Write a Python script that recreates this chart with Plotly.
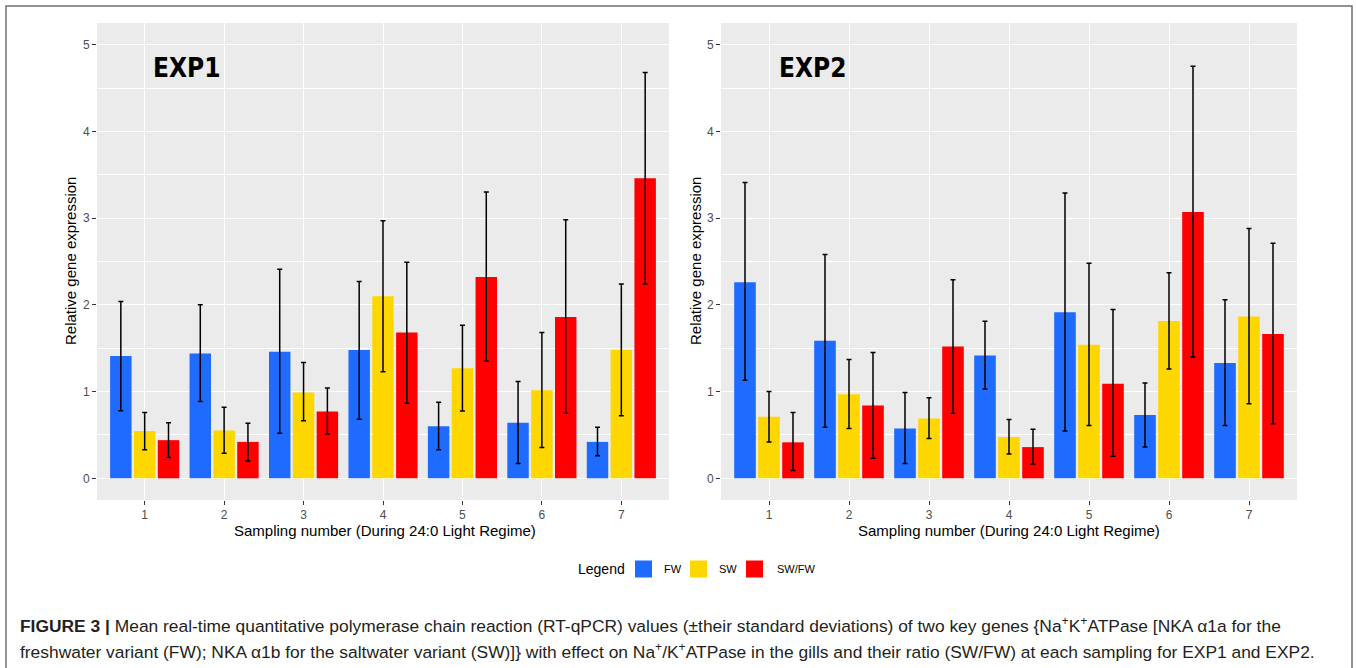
import plotly.graph_objects as go

samples = [1, 2, 3, 4, 5, 6, 7]
tick_labels = ["1", "2", "3", "4", "5", "6", "7"]
series_names = ["FW", "SW", "SW/FW"]
colors = {"FW": "#1F6BFF", "SW": "#FFD700", "SW/FW": "#FF0000"}

# EXP1 means and error-bar ends
exp1_fw = [1.41, 1.44, 1.46, 1.48, 0.60, 0.64, 0.42]
exp1_fw_hi = [2.04, 2.00, 2.41, 2.27, 0.877, 1.115, 0.59]
exp1_fw_lo = [0.78, 0.885, 0.52, 0.68, 0.33, 0.17, 0.26]
exp1_sw = [0.546, 0.55, 0.99, 2.10, 1.27, 1.015, 1.48]
exp1_sw_hi = [0.76, 0.82, 1.335, 2.97, 1.765, 1.68, 2.24]
exp1_sw_lo = [0.33, 0.29, 0.665, 1.23, 0.777, 0.354, 0.72]
exp1_ratio = [0.44, 0.42, 0.77, 1.68, 2.32, 1.86, 3.46]
exp1_ratio_hi = [0.64, 0.635, 1.04, 2.49, 3.30, 2.98, 4.68]
exp1_ratio_lo = [0.24, 0.20, 0.51, 0.865, 1.35, 0.75, 2.24]

# EXP2 means and error-bar ends
exp2_fw = [2.26, 1.585, 0.573, 1.415, 1.915, 0.73, 1.33]
exp2_fw_hi = [3.41, 2.58, 0.99, 1.81, 3.29, 1.10, 2.06]
exp2_fw_lo = [1.13, 0.59, 0.17, 1.03, 0.546, 0.36, 0.61]
exp2_sw = [0.71, 0.97, 0.69, 0.477, 1.54, 1.815, 1.865]
exp2_sw_hi = [1.00, 1.37, 0.93, 0.677, 2.48, 2.37, 2.88]
exp2_sw_lo = [0.42, 0.573, 0.46, 0.28, 0.61, 1.26, 0.86]
exp2_ratio = [0.415, 0.84, 1.52, 0.36, 1.09, 3.07, 1.665]
exp2_ratio_hi = [0.76, 1.45, 2.29, 0.565, 1.946, 4.75, 2.71]
exp2_ratio_lo = [0.09, 0.23, 0.75, 0.165, 0.254, 1.40, 0.63]

panels = [
    ("x", "y", [(exp1_fw, exp1_fw_hi, exp1_fw_lo), (exp1_sw, exp1_sw_hi, exp1_sw_lo),
                (exp1_ratio, exp1_ratio_hi, exp1_ratio_lo)]),
    ("x2", "y2", [(exp2_fw, exp2_fw_hi, exp2_fw_lo), (exp2_sw, exp2_sw_hi, exp2_sw_lo),
                  (exp2_ratio, exp2_ratio_hi, exp2_ratio_lo)]),
]

W, H = 1356, 668
fig = go.Figure()
for pi, (xa, ya, groups) in enumerate(panels):
    for name, (m, hi, lo) in zip(series_names, groups):
        fig.add_trace(go.Bar(
            x=samples, y=m, name=name, xaxis=xa, yaxis=ya,
            marker=dict(color=colors[name], line=dict(width=0)),
            showlegend=False,
            error_y=dict(type="data", symmetric=False,
                         array=[h - v for h, v in zip(hi, m)],
                         arrayminus=[v - l for v, l in zip(m, lo)],
                         color="black", thickness=1.5, width=2.5),
        ))


def px_x(p):
    return p / W


def px_y(p):
    return 1 - p / H


ydom = [px_y(500), px_y(23)]
x1dom = [px_x(97), px_x(669)]
x2dom = [px_x(721), px_x(1297)]

FONT = "Liberation Sans, Arial, sans-serif"
axis_common = dict(
    showgrid=True, gridcolor="white", gridwidth=1.3, zeroline=False,
    ticks="outside", ticklen=4, tickcolor="#333333", tickwidth=1.1,
    tickfont=dict(family=FONT, size=12, color="#4D4D4D"),
    showline=False,
)
xcommon = dict(axis_common, range=[0.4, 7.6], tickvals=samples, ticktext=tick_labels)
ycommon = dict(axis_common, range=[-0.25, 5.25], tickvals=[0, 1, 2, 3, 4, 5],
               minor=dict(dtick=0.5, tick0=0, showgrid=True, gridcolor="white",
                          gridwidth=0.6, ticks=""))

fig.update_layout(
    width=W, height=H,
    margin=dict(l=0, r=0, t=0, b=0),
    paper_bgcolor="white", plot_bgcolor="#EBEBEB",
    barmode="group", bargap=0.1, bargroupgap=0.1,
    xaxis=dict(xcommon, domain=x1dom, anchor="y"),
    yaxis=dict(ycommon, domain=ydom, anchor="x"),
    xaxis2=dict(xcommon, domain=x2dom, anchor="y2"),
    yaxis2=dict(ycommon, domain=ydom, anchor="x2"),
    showlegend=False,
    font=dict(family=FONT),
)

ann_font = dict(family=FONT, size=15, color="black")
title_font = dict(family="Liberation Sans Narrow, DejaVu Sans Condensed, sans-serif", size=26, color="black")
cap_font = dict(family=FONT, size=17.4, color="#231F20")


def ann(text, x, y, font, xanchor="center", yanchor="middle", angle=0):
    return dict(text=text, x=px_x(x), y=px_y(y), xref="paper", yref="paper",
                xanchor=xanchor, yanchor=yanchor, textangle=angle,
                showarrow=False, font=font)


annotations = [
    ann("<b>EXP1</b>", 151, 68, title_font, xanchor="left"),
    ann("<b>EXP2</b>", 777, 68, title_font, xanchor="left"),
    ann("Relative gene expression", 70, 261, ann_font, angle=-90),
    ann("Relative gene expression", 695, 261, ann_font, angle=-90),
    ann("Sampling number (During 24:0 Light Regime)", 385, 530, ann_font),
    ann("Sampling number (During 24:0 Light Regime)", 1009, 530, ann_font),
    ann("<b>FIGURE 3 |</b> Mean real-time quantitative polymerase chain reaction (RT-qPCR) values "
        "(±their standard deviations) of two key genes {Na<sup>+</sup>K<sup>+</sup>ATPase [NKA α1a for the",
        18, 625, cap_font, xanchor="left"),
    ann("freshwater variant (FW); NKA α1b for the saltwater variant (SW)]} with effect on "
        "Na<sup>+</sup>/K<sup>+</sup>ATPase in the gills and their ratio (SW/FW) at each sampling for EXP1 and EXP2.",
        18, 651, cap_font, xanchor="left"),
]

# legend (drawn manually to match the ggplot key)
leg_font = dict(family=FONT, size=11, color="black")
annotations.append(ann("Legend", 627, 569, dict(family=FONT, size=14, color="black"), xanchor="right"))
legend_items = [("FW", 635, 662), ("SW", 690, 717), ("SW/FW", 746, 775)]
for name, sx, tx in legend_items:
    fig.add_shape(type="rect", xref="paper", yref="paper",
                  x0=px_x(sx), x1=px_x(sx + 17), y0=px_y(577.5), y1=px_y(560.5),
                  line=dict(width=0), fillcolor=colors[name])
    annotations.append(ann(name, tx, 569, leg_font, xanchor="left"))

fig.update_layout(annotations=annotations)

fig.add_shape(type="rect", xref="paper", yref="paper",
              x0=px_x(6), x1=px_x(1352), y0=-0.05, y1=px_y(6),
              line=dict(color="#707070", width=1.5), fillcolor="rgba(0,0,0,0)", layer="above")

fig.write_html("out.html", config={"displayModeBar": False},
               post_script="document.body.style.margin='0';document.body.style.overflow='hidden';")
